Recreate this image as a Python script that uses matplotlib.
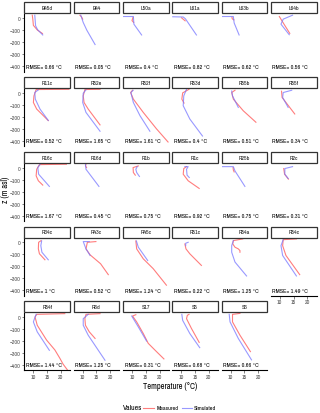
import matplotlib

matplotlib.use("Agg")
import matplotlib.pyplot as plt
from matplotlib import font_manager
from matplotlib.patches import Rectangle

# a narrow face if one is installed, else plain DejaVu Sans
narrow = [f.name for f in font_manager.fontManager.ttflist
          if "Narrow" in f.name or "Condensed" in f.name]
plt.rcParams["font.family"] = (narrow[:1] + ["DejaVu Sans"]) if narrow else ["DejaVu Sans"]
SHRINK = 1.0 if narrow else 0.8

# facet order, row by row (6 columns)
sites = ["B45d", "B44", "L50a", "L61a", "L63b", "L64b",
         "R11c", "R52e", "R52f", "R53d", "R55b", "R55f",
         "R16c", "R16d", "R1b", "R1c", "R25b", "R2c",
         "R34c", "R43c", "R45c", "R51c", "R54a", "R54c",
         "R54f", "R6d", "S17", "S5", "S6"]
rmse = ["0.66", "0.05", "0.4", "0.82", "0.62", "0.56",
        "0.52", "1.65", "1.61", "0.4", "0.51", "0.34",
        "1.67", "0.45", "0.75", "0.92", "0.75", "0.31",
        "1", "0.52", "1.24", "0.22", "1.25", "1.49",
        "1.44", "1.25", "0.31", "0.68", "0.66"]

# temperature (°C) and depth (m asl)
measured = {
    "B45d": ([9.6, 9.8, 10.0, 11.5, 13.3], [25, -10, -60, -100, -128]),
    "B44": ([9.0, 9.6, 10.0], [25, 10, -8]),
    "L50a": ([10.4, 10.0, 10.6], [8, -20, -35]),
    "L61a": ([10.1, 11.4], [3, -22]),
    "L63b": ([10.5, 10.6, 11.2], [8, -5, -14]),
    "L64b": ([9.8, 11.5, 13.6], [14, -50, -127]),
    "R11c": ([22.9, 11.0, 10.2, 10.0, 11.2, 15.4], [30, 28, -25, -80, -135, -231]),
    "R52e": ([16.3, 10.8, 10.2, 10.5, 12.0, 16.3], [30, 28, -25, -80, -135, -267]),
    "R52f": ([10.2, 9.5, 10.5, 14.1, 18.9, 23.1], [22, 3, -52, -163, -300, -410]),
    "R53d": ([12.8, 10.5, 10.2, 11.0], [30, 0, -52, -85]),
    "R55b": ([11.6, 10.4, 11.0, 14.6, 19.2], [22, 3, -52, -149, -245]),
    "R55f": ([10.6, 10.8, 15.4], [14, -38, -176]),
    "R16c": ([22.0, 12.2, 11.2, 11.0, 11.8, 13.4], [28, 25, -14, -69, -110, -146]),
    "R16d": ([11.2, 11.0, 11.4], [28, 15, 0]),
    "R1b": ([12.3, 10.4, 10.5, 11.2], [14, 0, -41, -63]),
    "R1c": ([11.9, 10.9, 10.7, 12.5, 16.5], [8, -8, -55, -110, -174]),
    "R25b": ([10.9, 11.0, 11.3], [0, -20, -36]),
    "R2c": ([11.4, 11.7, 13.1], [-8, -55, -96]),
    "R34c": ([12.8, 11.9, 11.8, 12.2, 14.2], [14, 0, -55, -96, -146]),
    "R43c": ([14.8, 11.7, 11.2, 12.7, 16.5, 19.3], [6, 0, -55, -105, -179, -270]),
    "R45c": ([11.4, 11.7, 14.1, 17.7, 22.5], [11, -55, -138, -220, -358]),
    "R51c": ([11.3, 11.7, 13.1, 17.3], [-14, -55, -96, -193]),
    "R54a": ([14.4, 11.0, 10.8, 11.6, 12.8, 13.4, 13.4], [28, 14, -14, -41, -55, -69, -83]),
    "R54c": ([16.0, 11.2, 11.0, 12.2, 17.2], [28, 22, -28, -110, -270]),
    "R54f": ([21.4, 11.2, 10.6, 11.4, 14.8, 17.8, 19.6, 20.8, 22.3],
             [28, 22, 0, -69, -193, -275, -344, -394, -440]),
    "R6d": ([16.3, 11.2, 10.8, 11.0, 12.4, 14.5], [28, 22, -14, -69, -124, -179]),
    "S17": ([11.4, 10.2, 11.7, 14.1, 15.9, 18.9, 21.6], [19, 8, -41, -138, -220, -289, -350]),
    "S5": ([12.8, 12.2, 11.9, 13.7, 16.5], [22, 14, -14, -96, -212]),
    "S6": ([13.4, 10.7, 10.7, 13.4, 17.2], [30, 22, -41, -152, -289]),
}
simulated = {
    "B45d": ([10.5, 10.8, 11.5, 13.4], [25, -63, -95, -140]),
    "B44": ([9.3, 10.2, 11.5, 14.5], [25, -36, -100, -220]),
    "L50a": ([6.9, 10.5, 10.7, 13.5], [14, 14, -50, -140]),
    "L61a": ([6.9, 10.7, 11.5, 15.5], [12, 10, -5, -140]),
    "L63b": ([6.9, 11.0, 11.3, 13.1], [14, 14, -40, -140]),
    "L64b": ([14.6, 11.2, 10.4, 13.4], [25, -8, -50, -138]),
    "R11c": ([11.8, 10.5, 10.7, 12.4, 15.4], [25, 3, -52, -135, -230]),
    "R52e": ([11.2, 10.2, 10.0, 11.2, 16.3], [25, -3, -80, -163, -320]),
    "R52f": ([10.4, 9.6, 10.5, 12.9, 16.5], [22, 3, -80, -190, -320]),
    "R53d": ([11.9, 10.9, 10.7, 13.1, 17.7], [30, -25, -107, -218, -360]),
    "R55b": ([10.4, 10.7, 12.8], [16, -25, -121]),
    "R55f": ([14.3, 11.2, 11.0, 13.0], [22, 3, -38, -121]),
    "R16c": ([12.4, 11.6, 11.9, 15.8], [25, 0, -55, -157]),
    "R16d": ([11.0, 11.2, 15.9], [28, -14, -157]),
    "R1b": ([11.9, 11.4, 11.7, 12.7], [8, -14, -41, -74]),
    "R1c": ([11.3, 12.5, 11.9, 12.1, 12.9], [8, 8, -14, -63, -83]),
    "R25b": ([6.9, 11.0, 11.6, 15.2], [8, 8, -28, -157]),
    "R2c": ([14.6, 11.8, 11.8, 13.0], [8, -8, -55, -91]),
    "R34c": ([13.0, 12.7, 13.1, 15.4], [11, -28, -83, -146]),
    "R43c": ([12.4, 10.2, 11.2, 12.7], [6, 6, -55, -110]),
    "R45c": ([11.6, 12.3, 15.7], [11, -41, -152]),
    "R51c": ([12.5, 11.6, 11.6], [0, -8, -28]),
    "R54a": ([11.0, 10.4, 10.4, 11.6, 15.8], [14, -28, -83, -165, -281]),
    "R54c": ([11.2, 10.4, 11.0, 16.0], [22, -28, -110, -281]),
    "R54f": ([11.0, 10.4, 10.0, 11.4, 15.8], [22, -14, -41, -124, -278]),
    "R6d": ([12.0, 10.2, 10.2, 12.0, 18.1], [22, -14, -69, -152, -361]),
    "S17": ([9.9, 12.3, 15.3], [8, -83, -201]),
    "S5": ([10.2, 10.5, 13.1, 16.7], [22, -28, -138, -256]),
    "S6": ([9.5, 9.8, 12.8, 17.6], [22, -41, -179, -358]),
}
x_ticks = [10, 15, 20]
y_ticks = [0, -100, -200, -300, -400]

W, H = 320, 414
NCOL = 6
MEAS_COLOR = "#FF6666"
SIM_COLOR = "#7777FF"
GREY = "#4D4D4D"

fig = plt.figure(figsize=(W / 100, H / 100), dpi=100)

left0, col_step, pw = 24.3, 49.3, 45.7
top0, row_step, ph, strip_h = 15.0, 74.7, 57.5, 11.0

n = len(sites)
last_row = (n - 1) // NCOL
for i, site in enumerate(sites):
    r, c = divmod(i, NCOL)
    x0 = left0 + c * col_step
    y_top = top0 + r * row_step
    ax = fig.add_axes([x0 / W, 1 - (y_top + ph) / H, pw / W, ph / H])
    ax.set_xlim(6.7, 23.3)
    ax.set_ylim(-445, 35)

    tm, zm = measured[site]
    ts, zs = simulated[site]
    ax.plot(tm, zm, color=MEAS_COLOR, lw=0.8, alpha=0.85)
    ax.plot(ts, zs, color=SIM_COLOR, lw=0.8, alpha=0.75)
    ax.text(7.3, -400, f"RMSE= {rmse[i]} °C", fontsize=4.4 * SHRINK, va="center",
            ha="left", color="black")

    for s in ["top", "right"]:
        ax.spines[s].set_visible(False)
    has_left = c == 0
    has_bottom = (r == last_row) or (i + NCOL >= n)
    ax.spines["left"].set_visible(has_left)
    ax.spines["bottom"].set_visible(has_bottom)
    for s in ["left", "bottom"]:
        ax.spines[s].set_linewidth(0.8)
    ax.set_yticks(y_ticks if has_left else [])
    ax.set_xticks(x_ticks if has_bottom else [])
    ax.tick_params(labelsize=4.2 * SHRINK, colors=GREY, length=1.8, width=0.5, pad=1)

    strip = Rectangle((x0 / W, 1 - (y_top - 0.6) / H), pw / W, strip_h / H,
                      transform=fig.transFigure, facecolor="white",
                      edgecolor="#333333", lw=0.9)
    fig.patches.append(strip)
    fig.text((x0 + pw / 2) / W, 1 - (y_top - 0.6 - strip_h / 2) / H, site,
             fontsize=4.2 * SHRINK, ha="center", va="center", color="#1A1A1A")

fig.text((left0 + 2.5 * col_step + pw / 2) / W, 1 - 387 / H, "Temperature (°C)",
         fontsize=6 * SHRINK, ha="center", va="center")
fig.text(5.5 / W, 1 - 190 / H, "z (m asl)", fontsize=6 * SHRINK, ha="center",
         va="center", rotation=90)

# legend
ly = 1 - 408.5 / H
fig.text(123 / W, ly, "Values", fontsize=5.5 * SHRINK, ha="left", va="center")
fig.add_artist(plt.Line2D([143 / W, 154 / W], [ly, ly], color=MEAS_COLOR, lw=0.8,
                          alpha=0.85, transform=fig.transFigure))
fig.text(157 / W, ly, "Measured", fontsize=4.3 * SHRINK, ha="left", va="center")
fig.add_artist(plt.Line2D([182 / W, 192 / W], [ly, ly], color=SIM_COLOR, lw=0.8,
                          alpha=0.75, transform=fig.transFigure))
fig.text(194 / W, ly, "Simulated", fontsize=4.3 * SHRINK, ha="left", va="center")

fig.savefig("out.png", dpi=100)
